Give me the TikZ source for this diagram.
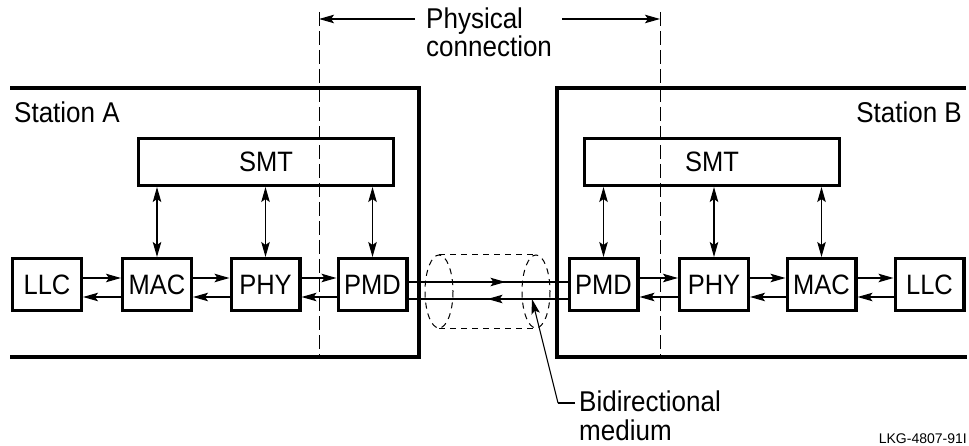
\documentclass[tikz,border=0pt]{standalone}
\usepackage{fontspec}
\setmainfont{Liberation Sans}
\usetikzlibrary{arrows.meta,decorations.markings}
\newcommand\tallt[1]{\scalebox{1}[1.1]{#1}}
\begin{document}
\begin{tikzpicture}[x=1pt,y=-1pt,
  tip/.tip={Stealth[length=15pt,width=8.5pt,inset=3pt]},
  lbl/.style={inner sep=0pt, font=\fontsize{26}{30}\selectfont},
  blk/.style={draw, line width=3.2pt, minimum width=68.8pt, minimum height=51.8pt, inner sep=0pt, font=\fontsize{25.5}{30}\selectfont},
  smtbox/.style={draw, line width=3.2pt, minimum width=254.8pt, minimum height=46.8pt, inner sep=0pt, font=\fontsize{25.5}{30}\selectfont},
  frame/.style={line width=3.5pt},
  conn/.style={line width=1.1pt, -tip},
  dconn/.style={line width=1.1pt, tip-tip},
  plain/.style={line width=1.1pt},
  bnd/.style={line width=1pt, dash pattern=on 14pt off 5pt},
  cable/.style={line width=1pt, dash pattern=on 6pt off 5pt},
  midfwd/.style={postaction={decorate}, decoration={markings, mark=at position #1 with {\arrow{tip}}}}
]
\useasboundingbox (0,0) rectangle (969,446);

% station frames
\draw[frame] (10,88) -- (419,88) -- (419,357) -- (10,357);
\draw[frame] (966,88) -- (557,88) -- (557,357) -- (967,357);

% physical connection boundaries
\coordinate (bl1) at (319,12); \coordinate (bl2) at (319,357);
\coordinate (br1) at (660,12); \coordinate (br2) at (660,357);
\draw[bnd] (bl1) -- (bl2);
\draw[bnd] (br1) -- (br2);

\node[lbl, anchor=north west, align=left, font=\fontsize{26}{22.5}\selectfont] (phys) at (426,8) {\tallt{Physical}\\\tallt{connection}};
\coordinate (pl) at (319,19); \coordinate (pla) at (415,19);
\coordinate (pr) at (660,19); \coordinate (pra) at (562,19);
\draw[conn] (pla) -- (pl);
\draw[conn] (pra) -- (pr);

% station labels
\node[lbl, anchor=base west] (stA) at (14,123) {\tallt{Station A}};
\node[lbl, anchor=base east] (stB) at (962,123) {\tallt{Station B}};

% Station A blocks
\node[smtbox] (smtA) at (266,162) {\tallt{SMT}};
\node[blk] (llcA) at (47,284.5) {\tallt{LLC}};
\node[blk] (macA) at (157,284.5) {\tallt{MAC}};
\node[blk] (phyA) at (265.5,284.5) {\tallt{PHY}};
\node[blk] (pmdA) at (372.5,284.5) {\tallt{PMD}};

% Station B blocks
\node[smtbox] (smtB) at (712,162) {\tallt{SMT}};
\node[blk] (pmdB) at (603.5,284.5) {\tallt{PMD}};
\node[blk] (phyB) at (714,284.5) {\tallt{PHY}};
\node[blk] (macB) at (821.5,284.5) {\tallt{MAC}};
\node[blk] (llcB) at (929.5,284.5) {\tallt{LLC}};

% SMT links
\foreach \b in {macA,phyA,pmdA} {\draw[dconn] (\b.north) -- (\b.north |- smtA.south);}
\foreach \b in {pmdB,phyB,macB} {\draw[dconn] (\b.north) -- (\b.north |- smtB.south);}

% horizontal links
\foreach \a/\c in {llcA/macA,macA/phyA,phyA/pmdA,pmdB/phyB,phyB/macB,macB/llcB} {
  \draw[conn] ([yshift=6.5pt]\a.east) -- ([yshift=6.5pt]\c.west);
  \draw[conn] ([yshift=-12.5pt]\c.west) -- ([yshift=-12.5pt]\a.east);
}

% medium
\draw[plain, midfwd=0.61] ([yshift=2.5pt]pmdA.east) -- ([yshift=2.5pt]pmdB.west);
\draw[plain, midfwd=0.503] ([yshift=-14.5pt]pmdB.west) -- ([yshift=-14.5pt]pmdA.east);

% cable
\draw[cable] (439,291.5) ellipse [x radius=14, y radius=36.5];
\draw[cable] (536,291.5) ellipse [x radius=14, y radius=36.5];
\draw[cable] (439,255) -- (536,255);
\draw[cable] (439,328) -- (536,328);

% leader
\coordinate (mtip) at (532,299);
\coordinate (knee) at (558,403);
\coordinate (lend) at (575,403);
\draw[plain] (lend) -- (knee);
\draw[conn] (knee) -- (mtip);
\node[lbl, anchor=north west, align=left, font=\fontsize{26}{29}\selectfont] (bidi) at (579,391) {\tallt{Bidirectional}\\\tallt{medium}};

\node[inner sep=0pt, anchor=base east, font=\fontsize{14}{17}\selectfont] (code) at (967,443) {LKG-4807-91I};
\end{tikzpicture}
\end{document}
